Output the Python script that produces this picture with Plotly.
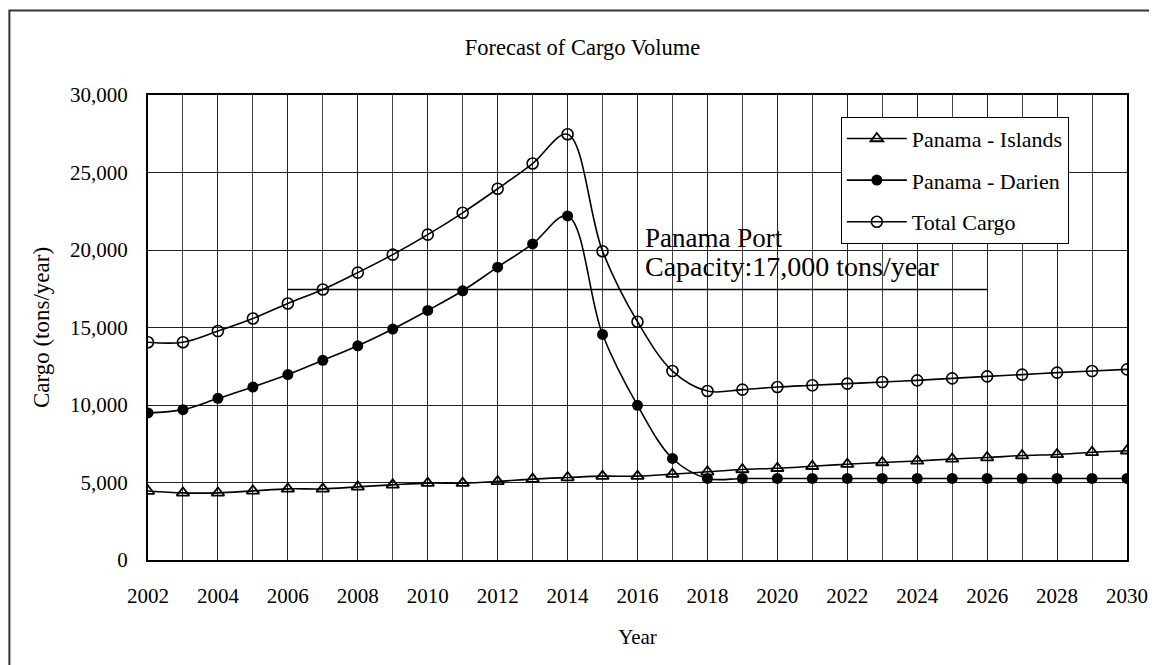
import plotly.graph_objects as go

years = list(range(2002, 2031))
islands = [4450, 4330, 4330, 4460, 4590, 4590, 4720, 4850, 4960, 4960, 5070, 5220, 5320, 5410,
           5410, 5540, 5690, 5840, 5920, 6050, 6180, 6290, 6390, 6520, 6610, 6740, 6810, 6950, 7050]
darien = [9490, 9700, 10430, 11160, 11960, 12880, 13820, 14900, 16100, 17370, 18890, 20390, 22200,
          14550, 9980, 6550, 5260, 5260, 5260, 5260, 5260, 5260, 5260, 5260, 5260, 5260, 5260, 5260, 5260]
total = [14050, 14050, 14770, 15580, 16550, 17450, 18540, 19700, 20990, 22400, 23950, 25580, 27470,
         19920, 15370, 12190, 10900, 10990, 11160, 11270, 11380, 11480, 11590, 11720, 11850, 11960,
         12090, 12190, 12300]
capacity_years = [2006, 2026]
capacity_values = [17450, 17450]
x_ticks = list(range(2002, 2031, 2))
y_ticks = [0, 5000, 10000, 15000, 20000, 25000, 30000]

FONT = "Liberation Serif, Times New Roman, serif"

fig = go.Figure()
fig.add_trace(go.Scatter(
    x=years, y=islands, name="Panama - Islands", mode="lines+markers",
    line=dict(color="black", width=1.6, shape="spline", smoothing=1),
    marker=dict(symbol="triangle-up-open", size=11, color="black", line=dict(width=1.8)),
    legendgroup="a"))
fig.add_trace(go.Scatter(
    x=years, y=darien, name="Panama - Darien", mode="lines+markers",
    line=dict(color="black", width=1.6, shape="spline", smoothing=1),
    marker=dict(symbol="circle", size=11, color="black"),
    legendgroup="b"))
fig.add_trace(go.Scatter(
    x=years, y=total, name="Total Cargo", mode="lines+markers",
    line=dict(color="black", width=1.6, shape="spline", smoothing=1),
    marker=dict(symbol="circle-open", size=11, color="black", line=dict(width=1.6)),
    legendgroup="c"))
fig.add_trace(go.Scatter(
    x=capacity_years, y=capacity_values, mode="lines", showlegend=False,
    line=dict(color="black", width=1.6), hoverinfo="skip"))

fig.add_annotation(x=2016.17, y=20750, xref="x", yref="y", text="Panama Port",
                   showarrow=False, xanchor="left", yanchor="middle",
                   font=dict(family=FONT, size=27, color="black"))
fig.add_annotation(x=2016.17, y=18950, xref="x", yref="y", text="Capacity:17,000 tons/year",
                   showarrow=False, xanchor="left", yanchor="middle",
                   font=dict(family=FONT, size=28, color="black"))

# outer frame
fig.add_shape(type="rect", xref="paper", yref="paper",
              x0=-0.1416, x1=1.04, y0=-0.25, y1=1.1817,
              line=dict(color="#333", width=2), layer="below")

fig.update_layout(
    width=1149, height=657,
    margin=dict(l=140, r=30, t=87, b=105, autoexpand=False),
    paper_bgcolor="white", plot_bgcolor="white",
    font=dict(family=FONT, size=21, color="black"),
    title=dict(text="Forecast of Cargo Volume", x=0.5, xref="container", xanchor="center",
               y=1 - 39 / 657, yref="container", yanchor="middle",
               font=dict(family=FONT, size=22.5, color="black")),
    legend=dict(x=0.7077, y=0.9533, xanchor="left", yanchor="top",
                bgcolor="white", bordercolor="black", borderwidth=1,
                font=dict(family=FONT, size=22, color="black"),
                tracegroupgap=10, itemwidth=60),
    showlegend=True,
)
fig.update_xaxes(
    range=[2002, 2030], tickvals=x_ticks, ticktext=[str(v) for v in x_ticks],
    showgrid=True, gridcolor="#222", gridwidth=1,
    minor=dict(dtick=1, tick0=2002, showgrid=True, gridcolor="#444", gridwidth=1),
    showline=True, linecolor="black", linewidth=2, mirror=True,
    ticks="", ticklabelstandoff=16, zeroline=False, automargin=False,
    title=dict(text="Year", standoff=22, font=dict(family=FONT, size=21)),
)
fig.update_yaxes(
    range=[0, 30000], tickvals=y_ticks, ticktext=[f"{v:,}" for v in y_ticks],
    showgrid=True, gridcolor="#222", gridwidth=1,
    showline=True, linecolor="black", linewidth=2, mirror=True,
    ticks="", ticklabelstandoff=14, zeroline=False, automargin=False,
    title=dict(text="Cargo (tons/year)", standoff=14, font=dict(family=FONT, size=23)),
)

fig.write_html("out.html")
